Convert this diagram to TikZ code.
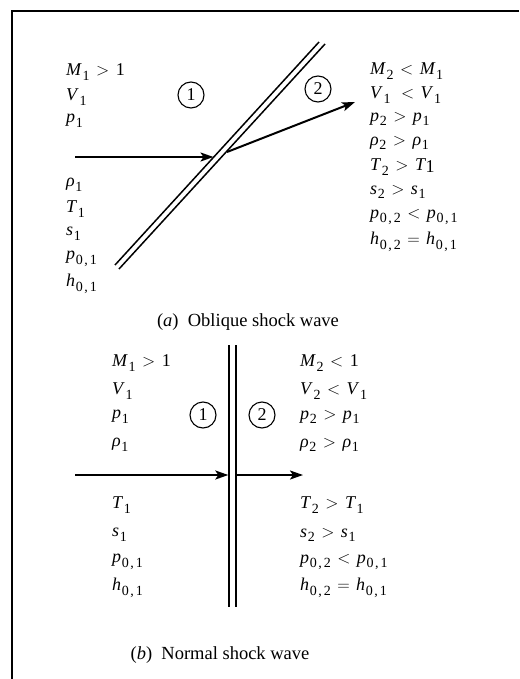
\documentclass[tikz,border=0pt]{standalone}
\usepackage{fontspec}
\setmainfont{Liberation Serif}
\usetikzlibrary{arrows.meta}
\newcommand\qv[2]{\textit{#1}\kern0.6pt\raisebox{-4.5pt}{\fontsize{14}{14}\selectfont #2}}
\newcommand\zs[2]{#1\kern1.5pt,\kern2pt#2}
\newcommand\rel[1]{\hspace{6.5pt}$#1$\hspace{6.5pt}}
\tikzset{
  lbl/.style={anchor=west, inner sep=0pt, font=\fontsize{18}{20}\selectfont},
  captxt/.style={anchor=center, inner sep=0pt, font=\fontsize{18.5}{20}\selectfont},
  region/.style={draw, circle, line width=1.1pt, minimum size=26pt, inner sep=0pt, font=\fontsize{18}{20}\selectfont},
  shock/.style={line width=1.5pt},
  flow/.style={line width=2pt, -{Stealth[length=13pt,width=9pt,inset=3pt]}},
  frame/.style={line width=2pt}
}
\begin{document}
\begin{tikzpicture}[x=1pt,y=-1pt]
\useasboundingbox (0,0) rectangle (519,679);
% frame
\draw[frame] (519,11) -- (12,11) -- (12,679);

% ---------- (a) oblique shock ----------
\coordinate (a1s) at (115,265); \coordinate (a1e) at (319,42);
\coordinate (a2s) at (119,269); \coordinate (a2e) at (325,44);
\draw[shock] (a1s) -- (a1e);
\draw[shock] (a2s) -- (a2e);
\coordinate (ain) at (75,157);
\coordinate (ahit) at (213.5,157);
\draw[flow] (ain) -- (ahit);
\coordinate (aout) at (227,152);
\coordinate (atip) at (355,102);
\draw[flow] (aout) -- (atip);
\node[region] (ra1) at (191,95) {1};
\node[region] (ra2) at (318,89) {2};

\node[lbl] (aM1) at (66,72) {\qv{M}{1}\rel{>}1};
\node[lbl] (aV1) at (66,97) {\qv{V}{1}};
\node[lbl] (ap1) at (66,121) {\qv{p}{1}};
\node[lbl] (ar1) at (66,185) {\qv{ρ}{1}};
\node[lbl] (aT1) at (66,209) {\qv{T}{1}};
\node[lbl] (as1) at (66,234) {\qv{s}{1}};
\node[lbl] (ap01) at (66,259) {\qv{p}{\zs01}};
\node[lbl] (ah01) at (66,284) {\qv{h}{\zs01}};

\node[lbl] (aM2) at (370,71) {\qv{M}{2}\rel{<}\qv{M}{1}};
\node[lbl] (aV2) at (370,95) {\qv{V}{1}\hspace{4pt}\rel{<}\qv{V}{1}};
\node[lbl] (ap2) at (370,119) {\qv{p}{2}\rel{>}\qv{p}{1}};
\node[lbl] (ar2) at (370,143) {\qv{ρ}{2}\rel{>}\qv{ρ}{1}};
\node[lbl] (aT2) at (370,167) {\qv{T}{2}\rel{>}\textit{T}\kern-0.5pt\raisebox{-1.5pt}{1}};
\node[lbl] (as2) at (370,192) {\qv{s}{2}\rel{>}\qv{s}{1}};
\node[lbl] (ap02) at (370,217) {\qv{p}{\zs02}\rel{<}\qv{p}{\zs01}};
\node[lbl] (ah02) at (370,242) {\qv{h}{\zs02}\rel{=}\qv{h}{\zs01}};

\node[captxt] (capa) at (248,322) {(\textit{a})\enspace Oblique shock wave};

% ---------- (b) normal shock ----------
\coordinate (b1s) at (229,345); \coordinate (b1e) at (229,607);
\coordinate (b2s) at (236,345); \coordinate (b2e) at (236,607);
\draw[shock] (b1s) -- (b1e);
\draw[shock] (b2s) -- (b2e);
\coordinate (bin) at (75,475);
\coordinate (bhit) at (228.3,475);
\draw[flow] (bin) -- (bhit);
\coordinate (bout) at (236.7,475);
\coordinate (btip) at (303,475);
\draw[flow] (bout) -- (btip);
\node[region] (rb1) at (203,415) {1};
\node[region] (rb2) at (262,415) {2};

\node[lbl] (bM1) at (112,363) {\qv{M}{1}\rel{>}1};
\node[lbl] (bV1) at (112,391) {\qv{V}{1}};
\node[lbl] (bp1) at (112,417) {\qv{p}{1}};
\node[lbl] (br1) at (112,445) {\qv{ρ}{1}};
\node[lbl] (bT1) at (112,505) {\qv{T}{1}};
\node[lbl] (bs1) at (112,535) {\qv{s}{1}};
\node[lbl] (bp01) at (112,562) {\qv{p}{\zs01}};
\node[lbl] (bh01) at (112,588) {\qv{h}{\zs01}};

\node[lbl] (bM2) at (300,363) {\qv{M}{2}\rel{<}1};
\node[lbl] (bV2) at (300,391) {\qv{V}{2}\rel{<}\qv{V}{1}};
\node[lbl] (bp2) at (300,417) {\qv{p}{2}\rel{>}\qv{p}{1}};
\node[lbl] (br2) at (300,445) {\qv{ρ}{2}\rel{>}\qv{ρ}{1}};
\node[lbl] (bT2) at (300,505) {\qv{T}{2}\rel{>}\qv{T}{1}};
\node[lbl] (bs2) at (300,535) {\qv{s}{2}\rel{>}\qv{s}{1}};
\node[lbl] (bp02) at (300,562) {\qv{p}{\zs02}\rel{<}\qv{p}{\zs01}};
\node[lbl] (bh02) at (300,588) {\qv{h}{\zs02}\rel{=}\qv{h}{\zs01}};

\node[captxt] (capb) at (220,655) {(\textit{b})\enspace Normal shock wave};
\end{tikzpicture}
\end{document}
